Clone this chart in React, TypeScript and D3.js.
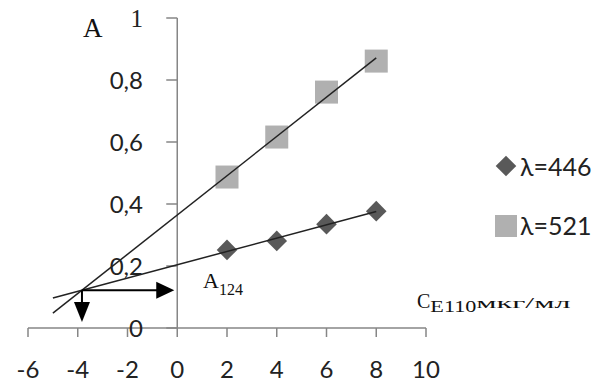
import React from 'react';
import * as d3 from 'd3';

// concentration, мкг/мл
const conc = [2, 4, 6, 8];
const a446 = [0.252, 0.281, 0.335, 0.377];
const a521 = [0.487, 0.616, 0.761, 0.861];

const xTicks = [-6, -4, -2, 0, 2, 4, 6, 8, 10];
const yTicks = [0, 0.2, 0.4, 0.6, 0.8, 1];
const yTickLabels = ['0', '0,2', '0,4', '0,6', '0,8', '1'];

const trendFrom = -5;

const W = 605;
const H = 387;

// least squares fit, same as the spreadsheet trendline
function fit(xs: number[], ys: number[]) {
  const mx = d3.mean(xs) as number;
  const my = d3.mean(ys) as number;
  let sxy = 0;
  let sxx = 0;
  xs.forEach((x, i) => {
    sxy += (x - mx) * (ys[i] - my);
    sxx += (x - mx) * (x - mx);
  });
  const k = sxy / sxx;
  return { k, b: my - k * mx };
}

const sans = 'Lato, "Open Sans", sans-serif';
const serif = '"Liberation Serif", "DejaVu Serif", serif';

export default function App() {
  const x = d3.scaleLinear().domain([-6, 10]).range([28, 426]);
  const y = d3.scaleLinear().domain([0, 1]).range([328, 18]);

  const f446 = fit(conc, a446);
  const f521 = fit(conc, a521);
  const xEnd = d3.max(conc) as number;

  const trend = (f: { k: number; b: number }) =>
    d3.line<number>().x(d => x(d)).y(d => y(f.k * d + f.b))([trendFrom, xEnd]) as string;

  // crossing point of the two trendlines
  const xi = (f446.b - f521.b) / (f521.k - f446.k);
  const yi = f446.k * xi + f446.b;
  const px = x(xi);
  const py = y(yi);
  const hTip = x(0) - 3;
  const vTip = y(0) - 6;

  const diamond = d3.symbol().type(d3.symbolDiamond2).size(270)() as string;

  const axisColor = '#868686';

  return (
    <svg width={W} height={H} style={{ position: 'absolute', left: 0, top: 0, background: '#fff' }}>
      {/* x axis */}
      <line x1={x(-6)} x2={x(10)} y1={y(0)} y2={y(0)} stroke={axisColor} strokeWidth={1.5} />
      {xTicks.map(t => (
        <g key={'x' + t}>
          <line x1={x(t)} x2={x(t)} y1={y(0)} y2={y(0) + 9} stroke={axisColor} strokeWidth={1.5} />
          <text x={x(t)} y={378} textAnchor="middle" fontFamily={sans} fontSize={24} fill="#222">
            {t}
          </text>
        </g>
      ))}

      {/* y axis */}
      <line x1={x(0)} x2={x(0)} y1={y(0)} y2={y(1)} stroke={axisColor} strokeWidth={1.5} />
      {yTicks.map((t, i) => (
        <g key={'y' + t}>
          <line x1={x(0) - 11} x2={x(0)} y1={y(t)} y2={y(t)} stroke={axisColor} strokeWidth={1.5} />
          <text
            x={143}
            y={y(t) + 8.5}
            textAnchor="end"
            fontFamily={t === 1 ? serif : sans}
            fontSize={t === 1 ? 25 : 24}
            fill="#222"
          >
            {yTickLabels[i]}
          </text>
        </g>
      ))}

      {/* markers */}
      {conc.map((c, i) => (
        <rect key={'s' + c} x={x(c) - 11.5} y={y(a521[i]) - 11.5} width={23} height={23} fill="#b0b0b0" />
      ))}
      {conc.map((c, i) => (
        <path key={'d' + c} d={diamond} transform={`translate(${x(c)},${y(a446[i])})`} fill="#595959" />
      ))}

      {/* trendlines */}
      <path d={trend(f521)} stroke="#222" strokeWidth={1.5} fill="none" />
      <path d={trend(f446)} stroke="#222" strokeWidth={1.5} fill="none" />

      {/* arrows from the crossing point */}
      <line x1={px} x2={hTip - 16} y1={py} y2={py} stroke="#000" strokeWidth={2} />
      <polygon points={`${hTip},${py} ${hTip - 18},${py - 8.5} ${hTip - 18},${py + 8.5}`} fill="#000" />
      <line x1={px} x2={px} y1={py} y2={vTip - 16} stroke="#000" strokeWidth={2} />
      <polygon points={`${px},${vTip} ${px - 8},${vTip - 20} ${px + 8},${vTip - 20}`} fill="#000" />

      <text x={203} y={288} fontFamily={serif} fontSize={22} fill="#111">
        A
        <tspan fontSize={16} dy={7}>124</tspan>
      </text>

      {/* axis titles */}
      <text x={83} y={37} fontFamily={serif} fontSize={27} fill="#111">A</text>
      <text x={417} y={308} fontFamily={serif} fontSize={20} fill="#111">
        C
        <tspan fontSize={16} dy={4} textLength={46} lengthAdjust="spacingAndGlyphs">E110</tspan>
        <tspan fontSize={14} dy={-4} textLength={94} lengthAdjust="spacingAndGlyphs">мкг/мл</tspan>
      </text>

      {/* legend */}
      <path d={diamond} transform="translate(506,166)" fill="#595959" />
      <text x={520} y={176} fontFamily={sans} fontSize={25} fill="#222">λ=446</text>
      <rect x={495} y={215} width={22} height={22} fill="#b0b0b0" />
      <text x={520} y={235} fontFamily={sans} fontSize={25} fill="#222">λ=521</text>
    </svg>
  );
}
